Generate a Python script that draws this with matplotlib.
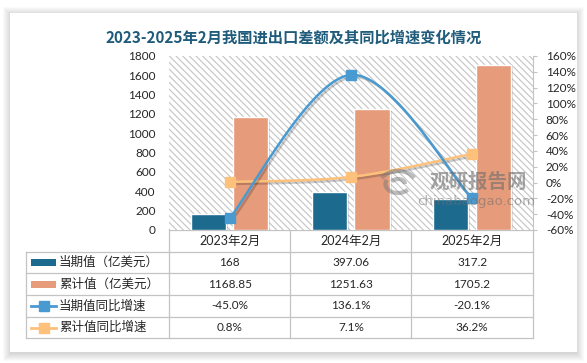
import numpy as np
import matplotlib
matplotlib.use('Agg')
import matplotlib.pyplot as plt
from matplotlib.patches import Rectangle, Arc
import matplotlib.patheffects as pe

categories = ['2023年2月', '2024年2月', '2025年2月']
current_value = [168, 397.06, 317.2]
cumulative_value = [1168.85, 1251.63, 1705.2]
current_yoy = [-45.0, 136.1, -20.1]
cumulative_yoy = [0.8, 7.1, 36.2]
current_value_labels = ['168', '397.06', '317.2']
cumulative_value_labels = ['1168.85', '1251.63', '1705.2']
current_yoy_labels = ['-45.0%', '136.1%', '-20.1%']
cumulative_yoy_labels = ['0.8%', '7.1%', '36.2%']
left_ticks = list(range(0, 1801, 200))
right_ticks = list(range(-60, 161, 20))
row_names = ['当期值（亿美元）', '累计值（亿美元）', '当期值同比增速', '累计值同比增速']
title = '2023-2025年2月我国进出口差额及其同比增速变化情况'

C_BAR1 = '#1d6a8f'
C_BAR2 = '#e69b7b'
C_LINE1 = '#4a9ad2'
C_LINE2 = '#fdc17b'
C_GRID = '#c3c3c3'
C_TEXT = '#262626'

plt.rcParams['font.family'] = ['Lato', 'Noto Sans CJK SC', 'DejaVu Sans']
plt.rcParams['hatch.linewidth'] = 0.8
plt.rcParams['hatch.color'] = '#c4c4c4'

W, H = 587, 363
fig = plt.figure(figsize=(W / 100, H / 100), dpi=100)
fig.patch.set_facecolor('white')

def fx(px):
    return px / W

def fy(py):
    return 1 - py / H

# overlay in pixel coords
ov = fig.add_axes([0, 0, 1, 1], zorder=-1)
ov.set_xlim(0, W)
ov.set_ylim(H, 0)
ov.axis('off')

CL, CR, CT, CB = 10, 577, 13, 352
for k in range(8, 0, -1):
    ov.add_patch(Rectangle((CL - k + 1, CT - k + 2), (CR - CL) + 2 * k - 2, (CB - CT) + 2 * k - 1,
                           facecolor='#000000', alpha=0.018, linewidth=0))
ov.add_patch(Rectangle((CL, CT), CR - CL, CB - CT, facecolor='white', linewidth=0))

ov.text((CL + CR) / 2, 37.5, title, ha='center', va='center', fontsize=11,
        fontweight='bold', color='#1f5b7a', family=['Noto Sans CJK SC'])

# plot area
L, R, T, B = 169, 532.6, 56, 230
ax = fig.add_axes([fx(L), fy(B), (R - L) / W, (B - T) / H], zorder=1)
ax.patch.set_visible(False)
bg = Rectangle((0, 0), 1, 1, transform=ax.transAxes, facecolor='white',
               edgecolor='#c4c4c4', hatch='\\\\\\\\\\', linewidth=0.0001, zorder=0)
ax.add_patch(bg)
x = np.arange(len(categories))
bw, off = 0.29, 0.175
shadow = [pe.SimplePatchShadow(offset=(1.5, -1.5), alpha=0.18), pe.Normal()]
ax.bar(x - off, current_value, width=bw, color=C_BAR1, edgecolor='white', linewidth=1,
       zorder=2, path_effects=shadow)
ax.bar(x + off, cumulative_value, width=bw, color=C_BAR2, edgecolor='white', linewidth=1,
       zorder=2, path_effects=shadow)
ax.set_xlim(-0.5, len(categories) - 0.5)
ax.set_ylim(0, 1800)
ax.set_yticks(left_ticks)
ax.set_yticklabels([str(v) for v in left_ticks])
ax.set_xticks([])
ax.tick_params(axis='y', length=0, labelsize=8.5, pad=9.5, labelcolor=C_TEXT)
for s in ax.spines.values():
    s.set_visible(False)

ax2 = ax.twinx()
ax2.set_zorder(2)
ax2.set_ylim(-60, 160)
ax2.set_yticks(right_ticks)
ax2.set_yticklabels([f'{v}%' for v in right_ticks])
ax2.tick_params(axis='y', length=3, color=C_GRID, labelsize=8.5, pad=6.5, labelcolor=C_TEXT)
for name, s in ax2.spines.items():
    s.set_visible(name == 'right')
ax2.spines['right'].set_color(C_GRID)


def smooth(xs, ys, axis, n=60):
    pts = axis.transData.transform(np.column_stack([xs, ys]))
    P = np.vstack([pts[0], pts, pts[-1]])
    out = []
    t = np.linspace(0, 1, n)[:, None]
    for i in range(1, len(P) - 2):
        p0, p1, p2, p3 = P[i - 1], P[i], P[i + 1], P[i + 2]
        c1 = p1 + (p2 - p0) / 6
        c2 = p2 - (p3 - p1) / 6
        seg = (1 - t) ** 3 * p1 + 3 * (1 - t) ** 2 * t * c1 + 3 * (1 - t) * t ** 2 * c2 + t ** 3 * p2
        out.append(seg)
    curve = np.vstack(out)
    return axis.transData.inverted().transform(curve)

lshadow = [pe.SimpleLineShadow(offset=(1.5, -1.5), alpha=0.2), pe.Normal()]
for vals, col in [(cumulative_yoy, C_LINE2), (current_yoy, C_LINE1)]:
    cv = smooth(x, vals, ax2)
    ax2.plot(cv[:, 0], cv[:, 1], color=col, lw=1.8, zorder=3, path_effects=lshadow,
             solid_capstyle='round')
    ax2.plot(x, vals, 's', ms=6.5, color=col, zorder=4)

# watermark
wm = fig.add_axes([0, 0, 1, 1], zorder=10)
wm.set_xlim(0, W)
wm.set_ylim(H, 0)
wm.axis('off')
wm.patch.set_visible(False)
for rr, th1, th2 in [(13, 200, 340), (9, 30, 200), (5, 200, 360)]:
    wm.add_patch(Arc((398, 184), 2 * rr * 1.4, 2 * rr, theta1=th1, theta2=th2,
                     color='#7a7a7a', alpha=0.5, lw=3))
wm.text(478, 182, '观研报告网', ha='center', va='center', fontsize=14, fontweight='bold',
        color='#6e6e6e', alpha=0.6, family=['Noto Sans CJK SC'])
wm.text(476, 201, 'chinabaogao.com', ha='center', va='center', fontsize=9.5,
        color='#6e6e6e', alpha=0.55, family=['DejaVu Sans'])

# data table
cols = [L + (R - L) * i / 3 for i in range(4)]
TL = 26
rows = [230, 251.7, 273.3, 295.0, 316.7, 338.3]
lw = 0.9
ov.plot([cols[0], cols[-1]], [rows[0], rows[0]], color=C_GRID, lw=lw)
for yy in rows[1:]:
    ov.plot([TL, cols[-1]], [yy, yy], color=C_GRID, lw=lw)
for xx in cols:
    ov.plot([xx, xx], [rows[0], rows[-1]], color=C_GRID, lw=lw)
ov.plot([TL, TL], [rows[1], rows[-1]], color=C_GRID, lw=lw)

centers = [(cols[i] + cols[i + 1]) / 2 for i in range(3)]
ymid = [(rows[i] + rows[i + 1]) / 2 for i in range(5)]
for cx, lab in zip(centers, categories):
    ov.text(cx, ymid[0], lab, ha='center', va='center', fontsize=9, color=C_TEXT)

table_values = [current_value_labels, cumulative_value_labels, current_yoy_labels, cumulative_yoy_labels]
for r, (name, vals) in enumerate(zip(row_names, table_values)):
    yy = ymid[r + 1]
    ov.text(59, yy, name, ha='left', va='center', fontsize=9, color=C_TEXT,
            family=['Noto Sans CJK SC'])
    for cx, v in zip(centers, vals):
        ov.text(cx, yy, v, ha='center', va='center', fontsize=8.5, color=C_TEXT)

ov.add_patch(Rectangle((31, ymid[1] - 3.5), 25, 7, facecolor=C_BAR1, linewidth=0))
ov.add_patch(Rectangle((31, ymid[2] - 3.5), 25, 7, facecolor=C_BAR2, linewidth=0))
for r, col in [(3, C_LINE1), (4, C_LINE2)]:
    ov.plot([31, 56], [ymid[r], ymid[r]], color=col, lw=2)
    ov.plot([43.5], [ymid[r]], 's', ms=6.5, color=col)

fig.savefig('out.png', dpi=100, facecolor='white')
